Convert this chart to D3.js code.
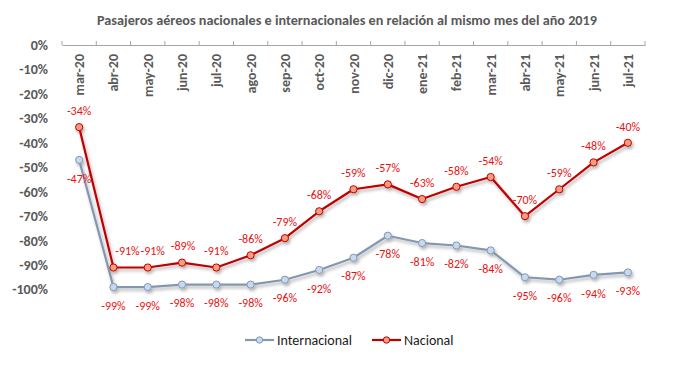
<!DOCTYPE html>
<html><head><meta charset="utf-8">
<script src="https://cdn.jsdelivr.net/npm/d3@7"></script>
<style>body{margin:0;background:#fff}svg{display:block}</style>
</head><body>
<svg id="chart" width="678" height="371"></svg>
<script>
const months = ["mar-20","abr-20","may-20","jun-20","jul-20","ago-20","sep-20","oct-20","nov-20","dic-20","ene-21","feb-21","mar-21","abr-21","may-21","jun-21","jul-21"];
const internacional = [-47,-99,-99,-98,-98,-98,-96,-92,-87,-78,-81,-82,-84,-95,-96,-94,-93];
const nacional = [-33.6,-91,-91,-89,-91,-86,-79,-68,-59,-57,-63,-58,-54,-70,-59,-48,-40];
const yTicks = [0,-10,-20,-30,-40,-50,-60,-70,-80,-90,-100];
const title = "Pasajeros aéreos nacionales e internacionales en relación al mismo mes del año 2019";

const font = "Calibri, Carlito, 'Liberation Sans Narrow', 'Open Sans', sans-serif";
const svg = d3.select("#chart");
const defs = svg.append("defs");
const f = defs.append("filter").attr("id","sh").attr("x","-20%").attr("y","-20%").attr("width","140%").attr("height","160%");
f.append("feDropShadow").attr("dx",1.5).attr("dy",2.5).attr("stdDeviation",1.5).attr("flood-color","#000").attr("flood-opacity",0.3);

const x = d3.scaleBand().domain(months).range([62,645]);
const y = d3.scaleLinear().domain([-100,0]).range([289.5,45]);

svg.append("text").attr("x",347).attr("y",25).attr("text-anchor","middle")
  .attr("font-family",font).attr("font-weight","bold").attr("font-size",14.2).attr("fill","#595959").text(title);

// Y axis labels
svg.append("g").selectAll("text").data(yTicks).join("text")
  .attr("x",48).attr("y",d=>y(d)).attr("dy","0.35em").attr("text-anchor","end")
  .attr("font-family",font).attr("font-weight","bold").attr("font-size",14).attr("fill","#595959")
  .text(d=>d+"%");

// X axis at top (0%)
const xa = svg.append("g").attr("transform",`translate(0,${y(0)})`)
  .call(d3.axisTop(x).tickSize(0).tickFormat(""));
xa.select(".domain").attr("stroke","#a6a6a6").attr("stroke-width",1);
svg.append("g").selectAll("line").data(d3.range(months.length+1)).join("line")
  .attr("x1",i=>62+i*x.step()).attr("x2",i=>62+i*x.step())
  .attr("y1",y(0)).attr("y2",y(0)-4).attr("stroke","#a6a6a6");
svg.append("g").selectAll("text").data(months).join("text")
  .attr("transform",d=>`translate(${x(d)+x.bandwidth()/2+5},54) rotate(-90)`)
  .attr("text-anchor","end")
  .attr("font-family",font).attr("font-weight","bold").attr("font-size",14).attr("fill","#595959")
  .text(d=>d);

const cx = (d,i)=>x(months[i])+x.bandwidth()/2;
const line = d3.line().x((d,i)=>cx(d,i)).y(d=>y(d));

function series(vals, stroke, fill, labelDy, nudges){
  const g = svg.append("g").attr("filter","url(#sh)");
  g.append("path").datum(vals).attr("d",line).attr("fill","none").attr("stroke",stroke).attr("stroke-width",2.2).attr("stroke-linejoin","round");
  g.selectAll("circle").data(vals).join("circle")
    .attr("cx",cx).attr("cy",d=>y(d)).attr("r",3.6)
    .attr("fill",fill).attr("stroke",stroke).attr("stroke-width",1);
  svg.append("g").selectAll("text").data(vals).join("text")
    .attr("x",(d,i)=>cx(d,i)+(nudges[i]||0)).attr("y",d=>y(d)+labelDy).attr("dy","0.35em")
    .attr("text-anchor","middle").attr("font-family",font).attr("font-size",12).attr("fill","#e81010")
    .text(d=>Math.round(d)+"%");
}
series(internacional,"#8497b0","#c6d9f0",18.5,{});
series(nacional,"#c00000","#f79c7c",-16.5,{1:14,2:5,3:1});

// Legend
const leg = svg.append("g");
const items = [{n:"Internacional",s:"#8497b0",f:"#c6d9f0",x:245},{n:"Nacional",s:"#c00000",f:"#f79c7c",x:372}];
items.forEach(it=>{
  leg.append("line").attr("x1",it.x).attr("x2",it.x+29).attr("y1",340).attr("y2",340).attr("stroke",it.s).attr("stroke-width",2.2);
  leg.append("circle").attr("cx",it.x+14.5).attr("cy",340).attr("r",3.2).attr("fill",it.f).attr("stroke",it.s);
  leg.append("text").attr("x",it.x+32).attr("y",340).attr("dy","0.35em").attr("font-family",font).attr("font-size",14).attr("fill","#1a1a1a").text(it.n);
});
</script>
</body></html>
